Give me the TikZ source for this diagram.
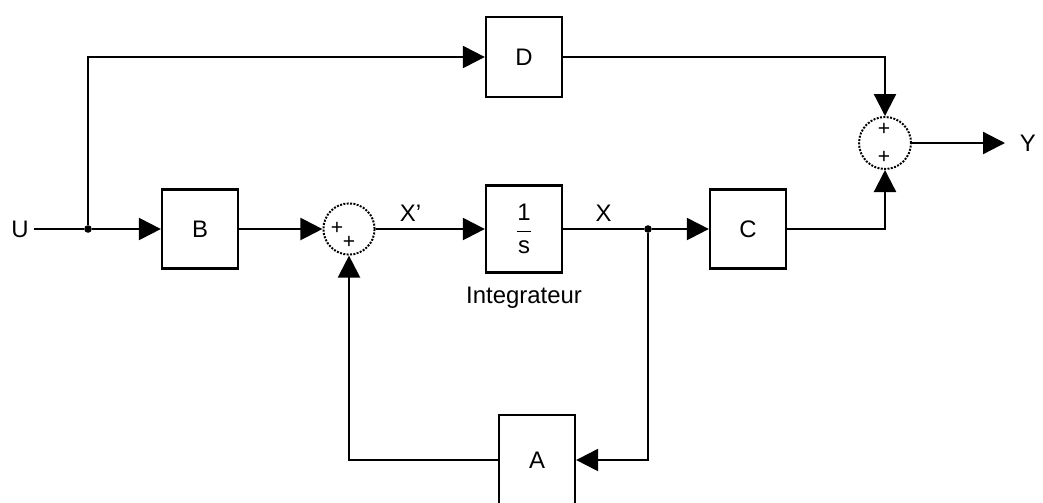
\documentclass[tikz,border=0pt]{standalone}
\usepackage{fontspec}
\setmainfont{Liberation Sans}
\usepackage{tikz}
\usetikzlibrary{arrows.meta,positioning}
\tikzset{
  bloc/.style={draw,line width=1.6pt,minimum width=1.9cm,minimum height=1.98cm,inner sep=0pt},
  sommateur/.style={circle,draw,densely dotted,line width=1.4pt,minimum size=1.28cm,inner sep=0pt},
  signe/.style={font=\fontsize{15}{15}\selectfont,inner sep=0pt},
  lien/.style={line width=1.6pt},
  flow/.style={-{Triangle[length=5.5mm,width=5.5mm]},line width=1.6pt},
  jonction/.style={circle,fill,inner sep=0pt,minimum size=1.9mm}
}
\begin{document}
\begin{tikzpicture}[x=0.025cm,y=-0.025cm,font=\fontsize{17}{20}\selectfont]
    \useasboundingbox (0,0) rectangle (1043,502);
    \node[bloc] (b) at (200,229) {B};
    \node[sommateur] (s1) at (349,229) {};
    \node[signe] (s1p) at (337,228) {+};
    \node[signe] (s1q) at (349,242) {+};
    \node[bloc,minimum height=2.18cm] (integ) at (524,229) {$\displaystyle\frac{\mbox{1}}{\mbox{s}}$};
    \node (nom) at (524,298) {Integrateur};
    \node[bloc] (c) at (748,229) {C};
    \node[bloc,minimum height=2cm] (d) at (524,57) {D};
    \node[sommateur,minimum size=1.3cm] (s2) at (885,143) {};
    \node[signe] (s2p) at (884,129) {+};
    \node[signe] (s2q) at (884,157) {+};
    \node[bloc,minimum height=2.25cm] (a) at (537,460) {A};
    \node (u) at (20,229) {U};
    \coordinate (yout) at (1005,143);
    \node[right=2.5mm of yout] (y) {Y};
    \node[jonction] (j1) at (88,229) {};
    \node[jonction] (j2) at (648,229) {};
    \draw[lien] (u)--(j1);
    \draw[flow] (j1)--(b);
    \draw[flow] (j1)|-(d);
    \draw[flow] (b)--(s1);
    \draw[flow] (s1)--node[pos=.32,above=0.5mm] (xp) {X'}(integ);
    \draw[lien] (integ)--node[above=0.5mm] (xl) {X}(j2);
    \draw[flow] (j2)--(c);
    \draw[flow] (j2)|-(a);
    \draw[flow] (a)-|(s1);
    \draw[flow] (c)-|(s2);
    \draw[flow] (d)-|(s2);
    \draw[flow] (s2)--(yout);
  \end{tikzpicture}
\end{document}
